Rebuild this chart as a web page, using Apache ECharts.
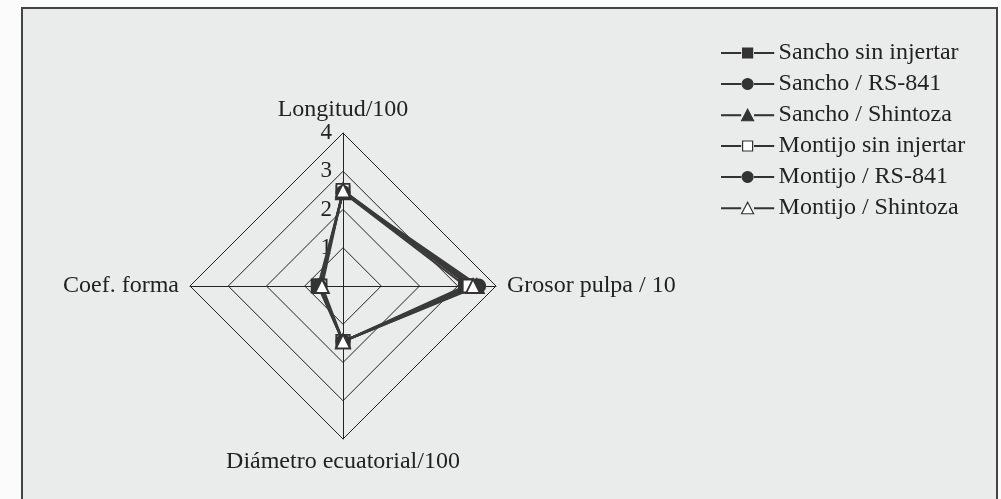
<!DOCTYPE html>
<html>
<head>
<meta charset="utf-8">
<script src="https://cdn.jsdelivr.net/npm/echarts@6/dist/echarts.min.js"></script>
<style>
  html, body { margin: 0; padding: 0; background: #fbfbfb; }
  #radar { width: 1001px; height: 499px; }
</style>
</head>
<body>
<div id="radar"></div>
<script>
// indicadores (orden: arriba, izquierda, abajo, derecha)
var indicadores = ['Longitud/100', 'Coef. forma', 'Diámetro ecuatorial/100', 'Grosor pulpa / 10'];
var maxEje = 4;

var nombres = ['Sancho sin injertar', 'Sancho / RS-841', 'Sancho / Shintoza',
               'Montijo sin injertar', 'Montijo / RS-841', 'Montijo / Shintoza'];

// valores: longitud, coef. forma, diametro, grosor
var sanchoSin      = [2.45, 0.65, 1.45, 3.2];
var sanchoRS       = [2.45, 0.6, 1.45, 3.35];
var sanchoShintoza = [2.45, 0.6, 1.45, 3.5];
var montijoSin     = [2.5, 0.6, 1.45, 3.3];
var montijoRS      = [2.45, 0.62, 1.45, 3.55];
var montijoShin    = [2.5, 0.55, 1.45, 3.4];

var valores = [sanchoSin, sanchoRS, sanchoShintoza, montijoSin, montijoRS, montijoShin];
var simbolos = ['rect', 'circle', 'triangle', 'rect', 'circle', 'triangle'];
var rellenos = ['#333', '#333', '#333', '#fff', '#333', '#fff'];

var fuente = '"Liberation Serif", "DejaVu Serif", serif';

// iconos de leyenda: linea con marcador en medio (caja 52 x 12)
var linea = 'M0 5.5 H19 V6.5 H0 Z M33 5.5 H52 V6.5 H33 Z ';
var iconos = {
  rect: 'path://' + linea + 'M21 1 H31 V11 H21 Z',
  circle: 'path://' + linea + 'M20.5 6 A5.5 5.5 0 1 0 31.5 6 A5.5 5.5 0 1 0 20.5 6 Z',
  triangle: 'path://' + linea + 'M26 0 L32 11.5 L20 11.5 Z'
};

var myChart = echarts.init(document.getElementById('radar'));

var series = valores.map(function (v, i) {
  return {
    name: nombres[i],
    type: 'radar',
    symbol: simbolos[i],
    symbolSize: simbolos[i] === 'triangle' ? 14 : 13,
    lineStyle: { color: '#3a3a3a', width: 2.2 },
    itemStyle: { color: rellenos[i], borderColor: '#333', borderWidth: 1.8 },
    data: [{ value: v, name: nombres[i] }]
  };
});

var option = {
  animation: false,
  graphic: [{
    type: 'rect',
    z: -10,
    shape: { x: 22, y: 8, width: 975, height: 500 },
    style: { fill: '#e9ecea', stroke: '#444', lineWidth: 2 }
  }],
  legend: {
    orient: 'vertical',
    left: 716,
    top: 36,
    itemWidth: 52,
    itemHeight: 12,
    itemGap: 7,
    textStyle: { fontFamily: fuente, fontSize: 24, color: '#222' },
    data: nombres.map(function (n, i) {
      return {
        name: n,
        icon: iconos[simbolos[i]],
        itemStyle: { color: rellenos[i], borderColor: '#333', borderWidth: 1.2 }
      };
    })
  },
  radar: {
    center: [343, 286],
    radius: 153,
    shape: 'polygon',
    splitNumber: 4,
    nameGap: 11,
    axisName: { color: '#222', fontFamily: fuente, fontSize: 24 },
    axisLine: { lineStyle: { color: '#222', width: 1 } },
    splitLine: { lineStyle: { color: '#222', width: 1 } },
    splitArea: { show: false },
    axisLabel: { show: false },
    indicator: indicadores.map(function (n, i) {
      var ind = { name: n, min: 0, max: maxEje };
      if (i === 0) {
        ind.axisLabel = {
          show: true,
          color: '#222',
          fontFamily: fuente,
          fontSize: 23,
          margin: 11,
          formatter: function (v) { return v === 0 ? '' : v; }
        };
      }
      return ind;
    })
  },
  series: series
};

myChart.setOption(option);
</script>
</body>
</html>
